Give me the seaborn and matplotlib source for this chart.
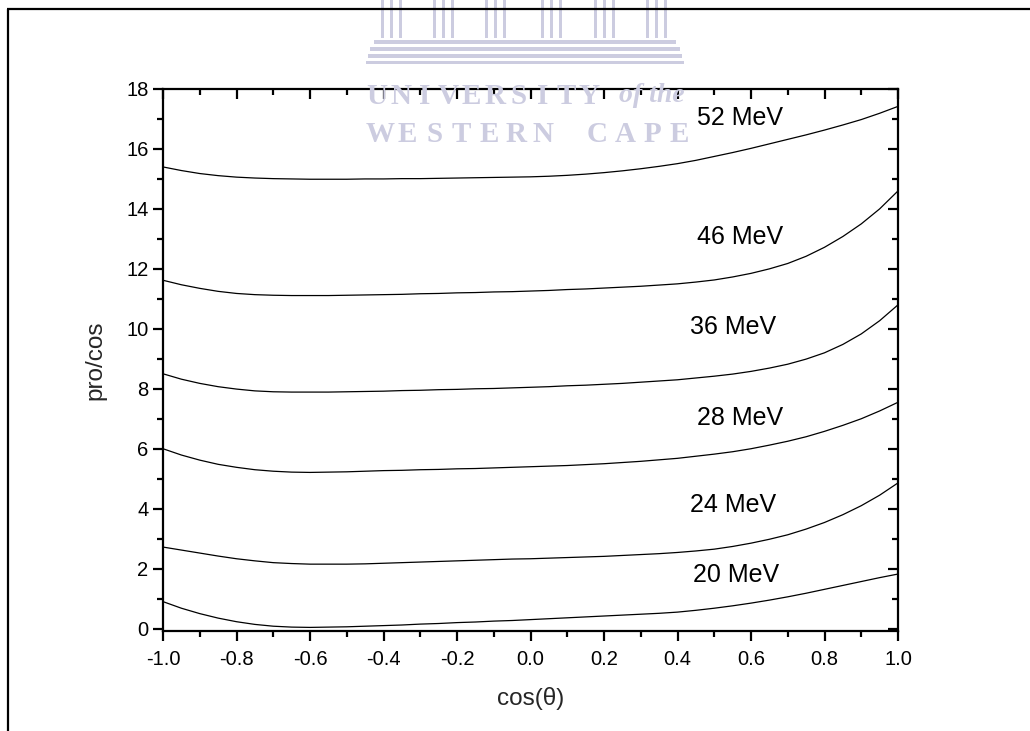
import numpy as np
import pandas as pd
import matplotlib
matplotlib.use("Agg")
import matplotlib.pyplot as plt
from matplotlib.lines import Line2D
from matplotlib.patches import Rectangle
from matplotlib.ticker import MultipleLocator, FormatStrFormatter
import seaborn as sns

# cos(theta) sampling grid, step 0.05
cos_theta = np.round(np.linspace(-1.0, 1.0, 41), 2)

# pro/cos curves per beam energy
e20 = [0.90, 0.68, 0.50, 0.35, 0.23, 0.14, 0.08, 0.05, 0.04, 0.05,
       0.06, 0.08, 0.10, 0.12, 0.15, 0.17, 0.20, 0.22, 0.25, 0.27,
       0.30, 0.33, 0.36, 0.39, 0.42, 0.45, 0.48, 0.51, 0.55, 0.61,
       0.68, 0.76, 0.85, 0.95, 1.06, 1.18, 1.31, 1.44, 1.57, 1.70, 1.82]
e24 = [2.72, 2.62, 2.52, 2.42, 2.33, 2.26, 2.20, 2.17, 2.15, 2.15,
       2.15, 2.16, 2.18, 2.20, 2.22, 2.24, 2.26, 2.28, 2.30, 2.32,
       2.33, 2.35, 2.37, 2.39, 2.41, 2.44, 2.47, 2.50, 2.54, 2.59,
       2.65, 2.74, 2.85, 2.98, 3.13, 3.32, 3.54, 3.80, 4.10, 4.45, 4.86]
e28 = [6.00, 5.79, 5.62, 5.48, 5.38, 5.30, 5.25, 5.22, 5.21, 5.22,
       5.23, 5.25, 5.27, 5.28, 5.30, 5.31, 5.33, 5.34, 5.36, 5.38,
       5.40, 5.42, 5.44, 5.47, 5.50, 5.54, 5.58, 5.63, 5.68, 5.75,
       5.82, 5.90, 6.00, 6.12, 6.25, 6.40, 6.58, 6.78, 7.00, 7.26, 7.55]
e36 = [8.50, 8.32, 8.18, 8.07, 7.99, 7.93, 7.90, 7.89, 7.89, 7.89,
       7.90, 7.91, 7.92, 7.94, 7.95, 7.97, 7.98, 8.00, 8.01, 8.03,
       8.05, 8.07, 8.10, 8.12, 8.15, 8.18, 8.22, 8.26, 8.30, 8.36,
       8.42, 8.49, 8.58, 8.69, 8.82, 8.99, 9.20, 9.48, 9.83, 10.27, 10.80]
e46 = [11.62, 11.47, 11.35, 11.25, 11.18, 11.14, 11.12, 11.11, 11.11, 11.11,
       11.12, 11.13, 11.14, 11.15, 11.17, 11.18, 11.20, 11.21, 11.23, 11.24,
       11.26, 11.28, 11.31, 11.33, 11.36, 11.39, 11.42, 11.46, 11.50, 11.56,
       11.63, 11.73, 11.85, 12.00, 12.18, 12.42, 12.72, 13.08, 13.50, 14.00, 14.60]
e52 = [15.40, 15.28, 15.18, 15.11, 15.06, 15.03, 15.01, 15.00, 14.99, 14.99,
       14.99, 15.00, 15.00, 15.01, 15.01, 15.02, 15.03, 15.04, 15.05, 15.06,
       15.07, 15.09, 15.12, 15.16, 15.21, 15.27, 15.34, 15.42, 15.51, 15.62,
       15.75, 15.88, 16.02, 16.17, 16.32, 16.47, 16.63, 16.80, 16.98, 17.19, 17.42]

energies = ["20 MeV", "24 MeV", "28 MeV", "36 MeV", "46 MeV", "52 MeV"]
curves = [e20, e24, e28, e36, e46, e52]

# label anchor points (data coordinates)
label_x = [0.56, 0.55, 0.57, 0.55, 0.57, 0.57]
label_y = [1.80, 4.13, 7.03, 10.07, 13.07, 17.03]

df = pd.concat(
    [pd.DataFrame({"cos": cos_theta, "val": c, "energy": e}) for e, c in zip(energies, curves)],
    ignore_index=True,
)

sns.set_theme(style="white")
plt.rcParams["font.family"] = ["Liberation Sans", "DejaVu Sans"]

W, H = 1030, 731
fig = plt.figure(figsize=(W / 100, H / 100), dpi=100)
fig.patch.set_facecolor("white")

# page frame (top and left rules)
fig.add_artist(Line2D([7 / W, 1.0], [1 - 9 / H, 1 - 9 / H], transform=fig.transFigure,
                      color="black", lw=1.6, solid_capstyle="butt"))
fig.add_artist(Line2D([8 / W, 8 / W], [0.0, 1 - 9 / H], transform=fig.transFigure,
                      color="black", lw=1.6, solid_capstyle="butt"))

# faint crest watermark
wm = (0.80, 0.80, 0.88)
def px_rect(x0, y0, x1, y1, color=wm):
    fig.add_artist(Rectangle((x0 / W, 1 - y1 / H), (x1 - x0) / W, (y1 - y0) / H,
                             transform=fig.transFigure, facecolor=color, edgecolor="none"))

px_rect(365, 0, 685, 66, color="white")
for cx in [393, 445, 497, 553, 606, 658]:
    px_rect(cx - 12, 0, cx - 9, 38)
    px_rect(cx - 3, 0, cx, 38)
    px_rect(cx + 6, 0, cx + 9, 38)
px_rect(374, 40, 676, 44)
px_rect(370, 47, 680, 51)
px_rect(368, 54, 682, 58)
px_rect(366, 61, 684, 64)

line1 = "UNIVERSITY"
for i, ch in enumerate(line1):
    fig.text((377 + i * 23.6) / W, 1 - 96 / H, ch, ha="center", va="center",
             family="Liberation Serif", weight="bold", fontsize=21, color=wm)
fig.text(685 / W, 1 - 96 / H, "of the", ha="right", va="center", family="Liberation Serif",
         style="italic", weight="bold", fontsize=20, color=wm)
line2 = "WESTERN CAPE"
for i, ch in enumerate(line2):
    fig.text((380 + i * 27.2) / W, 1 - 134 / H, ch, ha="center", va="center",
             family="Liberation Serif", weight="bold", fontsize=21, color=wm)

ax = fig.add_axes([163 / W, 1 - 631 / H, (898 - 163) / W, (631 - 89) / H])
ax.set_facecolor("none")

sns.lineplot(data=df, x="cos", y="val", hue="energy", palette=["black"] * len(energies),
             estimator=None, sort=False, legend=False, linewidth=0.9, ax=ax)

for name, lx, ly in zip(energies, label_x, label_y):
    ax.text(lx, ly, name, ha="center", va="center", fontsize=18, color="black")

ax.set_xlim(-1.0, 1.0)
ax.set_ylim(-0.08, 18)
ax.xaxis.set_major_locator(MultipleLocator(0.2))
ax.xaxis.set_minor_locator(MultipleLocator(0.1))
ax.xaxis.set_major_formatter(FormatStrFormatter("%.1f"))
ax.yaxis.set_major_locator(MultipleLocator(2))
ax.yaxis.set_minor_locator(MultipleLocator(1))
ax.yaxis.set_major_formatter(FormatStrFormatter("%d"))

for s in ax.spines.values():
    s.set_visible(True)
    s.set_color("black")
    s.set_linewidth(1.6)

ax.tick_params(which="both", direction="out", colors="black", width=1.6,
               bottom=True, left=True, top=False, right=False, labelsize=14.5)
ax.tick_params(axis="x", which="major", length=7.5, pad=6)
ax.tick_params(axis="y", which="major", length=7.5, pad=3)
ax.tick_params(which="minor", length=4)

# inward ticks on the top and right edges
top = ax.secondary_xaxis("top")
top.xaxis.set_major_locator(MultipleLocator(0.2))
top.xaxis.set_minor_locator(MultipleLocator(0.1))
top.tick_params(which="both", direction="in", width=1.6, labeltop=False, color="black")
top.tick_params(which="major", length=7.5)
top.tick_params(which="minor", length=4)
top.spines["top"].set_visible(False)
right = ax.secondary_yaxis("right")
right.yaxis.set_major_locator(MultipleLocator(2))
right.yaxis.set_minor_locator(MultipleLocator(1))
right.tick_params(which="both", direction="in", width=1.6, labelright=False, color="black")
right.tick_params(which="major", length=7.5)
right.tick_params(which="minor", length=4)
right.spines["right"].set_visible(False)

ax.set_xlabel("cos(θ)", fontsize=17.5, labelpad=13)
ax.set_ylabel("pro/cos", fontsize=17.5, labelpad=14)

fig.savefig("out.png", dpi=100, facecolor="white")
